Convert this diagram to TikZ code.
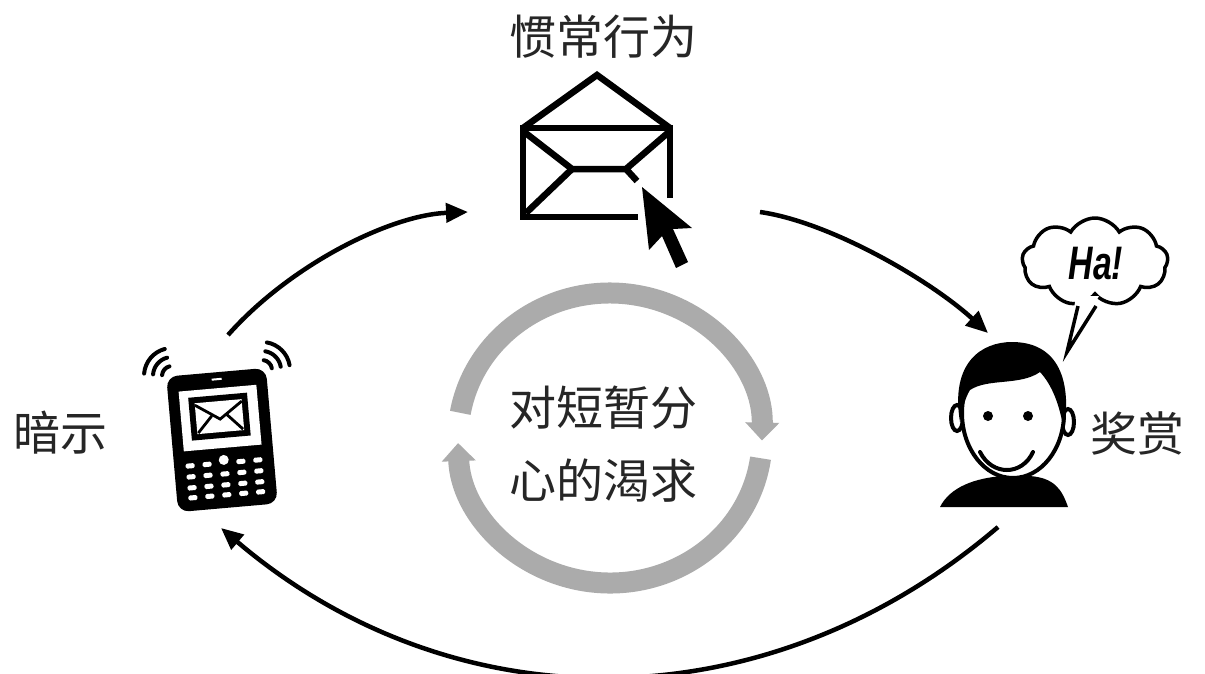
\documentclass[tikz,border=0pt]{standalone}
\usepackage{fontspec}
\newfontfamily\cjk{Noto Sans CJK SC}
\newfontfamily\hafont{Liberation Sans}
\usetikzlibrary{arrows.meta,shapes.symbols}
\begin{document}
\begin{tikzpicture}[x=1pt,y=-1pt,
  conn/.style={line width=4.5pt,-{Triangle[length=22pt,width=19pt]}},
  grayarc/.style={line width=21pt,draw=black!33,-{Triangle[length=18pt,width=33pt]}},
  txt/.style={font=\cjk\fontsize{47}{56}\selectfont,text=black!85,inner sep=0pt},
  envline/.style={line width=6.5pt,line join=miter},
  keycap/.style={fill=white,rounded corners=1.5pt},
  wave/.style={line width=4pt,line cap=round}]
\path[use as bounding box,fill=white] (0,0) rectangle (1205,673);

% labels
\node[txt] (habit) at (603,37) {惯常行为};
\node[txt] (cue) at (60,433) {暗示};
\node[txt] (reward) at (1137,433) {奖赏};
\node[txt] (crave1) at (603,408) {对短暂分};
\node[txt] (crave2) at (603,481) {心的渴求};

% grey cycle
\draw[grayarc] (610,438) ++(190:152 and 145) arc[start angle=190,end angle=361,x radius=152,y radius=145];
\draw[grayarc] (610,438) ++(8:152 and 145) arc[start angle=8,end angle=178,x radius=152,y radius=145];

% envelope
\draw[envline] (523,128) -- (597,75) -- (670,128);
\draw[envline] (670,198) -- (670,128) -- (523,128) -- (523,217) -- (638,217);
\draw[envline] (523,131) -- (572,169) -- (626,169) -- (670,131);
\draw[envline] (572,169) -- (526,213);
\draw[envline] (626,169) -- (637,181);
% cursor
\fill[black] (642,187) -- (649,250) -- (662,236) -- (676,268) -- (688,262) -- (673,229) -- (692,228) -- cycle;

% phone
\begin{scope}[shift={(222,440)},rotate=5]
  \fill[black,rounded corners=11pt] (-50,-68) rectangle (50,68);
  \fill[white] (-39,-52) rectangle (39,8);
  \fill[black] (-30,-45) rectangle (29,-2);
  \fill[white] (-24,-39) rectangle (23,-8);
  \draw[line width=2.8pt,line join=miter] (-24,-37) -- (0,-21) -- (23,-37);
  \draw[line width=2.8pt] (-23,-9) -- (-8,-25);
  \draw[line width=2.8pt] (22,-9) -- (7,-25);
  \draw[white,line width=2pt] (-5,-61) -- (5,-61);
  \foreach \kx in {-34,-17,17,34} {
    \foreach \ky in {23,34,45,55} {
      \fill[keycap] (\kx-4.5,\ky-2.5) rectangle (\kx+4.5,\ky+2.5);
    }
  }
  \foreach \ky in {34,45,55} {
    \fill[keycap] (-4.5,\ky-2.5) rectangle (4.5,\ky+2.5);
  }
  \fill[white] (0,20) circle[radius=5];
\end{scope}
% waves
\foreach \r in {10,19,28} {
  \draw[wave] (172,376) ++(185:\r) arc[start angle=185,end angle=255,radius=\r];
  \draw[wave] (262,370) ++(280:\r) arc[start angle=280,end angle=350,radius=\r];
}

% person
\fill[black] (940,507) .. controls (950,487) and (975,478) .. (1003,476) -- (1030,476)
  .. controls (1055,478) and (1062,490) .. (1068,507) -- cycle;
\draw[line width=4pt,fill=white] (957,418) ellipse[x radius=6,y radius=13];
\draw[line width=4pt,fill=white] (1068,422) ellipse[x radius=6,y radius=13];
\draw[line width=4pt,fill=white] (1013,413) ellipse[x radius=51,y radius=65];
\fill[black] (960,422) .. controls (950,362) and (982,342) .. (1012,342)
  .. controls (1048,342) and (1074,366) .. (1064,432)
  .. controls (1060,405) and (1052,385) .. (1040,372)
  .. controls (1020,386) and (988,378) .. (970,390)
  .. controls (965,398) and (962,410) .. (960,422) -- cycle;
\fill[black] (988,416) circle[radius=5];
\fill[black] (1028,416) circle[radius=5];
\draw[line width=4pt,line cap=round] (980,452) .. controls (992,476) and (1022,476) .. (1033,452);

% speech bubble
\node[cloud,cloud puffs=9,cloud puff arc=120,aspect=1.6,draw,line width=3.5pt,fill=white,
  minimum width=146pt,minimum height=88pt] (bubble) at (1095,262) {};
\fill[white] (1076,296) -- (1067,352) -- (1099,296) -- cycle;
\draw[line width=3.5pt,line join=miter] (1078,306) -- (1067,352) -- (1096,306);
\node[font=\hafont\bfseries\itshape\fontsize{47}{47}\selectfont,xscale=0.72,inner sep=0pt] (ha) at (1096,264) {Ha!};

% connectors
\coordinate (cueOut) at (228,335);
\coordinate (habitIn) at (468,212);
\coordinate (habitOut) at (760,212);
\coordinate (rewardIn) at (988,333);
\coordinate (rewardOut) at (998,527);
\coordinate (cueIn) at (221,528);
\draw[conn] (cueOut) .. controls (290,265) and (390,215) .. (habitIn);
\draw[conn] (habitOut) .. controls (830,222) and (930,280) .. (rewardIn);
\draw[conn] (rewardOut) .. controls (765,726) and (454,726) .. (cueIn);
\end{tikzpicture}
\end{document}
